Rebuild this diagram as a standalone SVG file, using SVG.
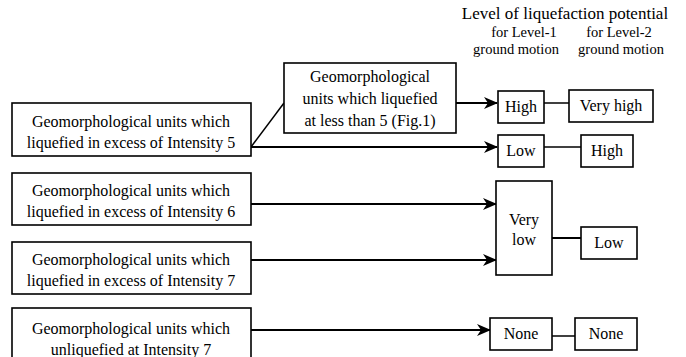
<svg xmlns="http://www.w3.org/2000/svg" width="686" height="357" viewBox="0 0 686 357">
<style>
.box{fill:#fff;stroke:#000;stroke-width:1.6}
.t{font-family:"Liberation Serif","Times New Roman",serif;font-size:16px;fill:#000;text-anchor:middle}
.h{font-family:"Liberation Serif","Times New Roman",serif;font-size:17px;fill:#000;text-anchor:middle}
.s{font-family:"Liberation Serif","Times New Roman",serif;font-size:14.5px;fill:#000;text-anchor:middle}
.c{fill:none;stroke:#000;stroke-width:2}
.l{fill:none;stroke:#000;stroke-width:1.5}
</style>
<defs>
<marker id="arr" markerWidth="14" markerHeight="12" refX="13" refY="6" orient="auto" markerUnits="userSpaceOnUse">
<path d="M0,0 L14,6 L0,12 L4,6 Z" fill="#000"/>
</marker>
</defs>
<rect width="686" height="357" fill="#fff"/>
<g id="header">
<text class="h" x="565" y="19">Level of liquefaction potential</text>
<text class="s" x="524" y="37">for Level-1</text>
<text class="s" x="619" y="37">for Level-2</text>
<text class="s" x="516" y="54">ground motion</text>
<text class="s" x="621" y="54">ground motion</text>
</g>
<g id="connectors">
<line class="l" x1="251" y1="147" x2="284" y2="103"/>
<line class="c" x1="251" y1="147" x2="497" y2="147" marker-end="url(#arr)"/>
<line class="c" x1="456" y1="103" x2="497" y2="103" marker-end="url(#arr)"/>
<line class="l" x1="544" y1="103" x2="569" y2="103"/>
<line class="l" x1="544" y1="147" x2="581" y2="147"/>
<line class="c" x1="251" y1="204" x2="496" y2="204" marker-end="url(#arr)"/>
<line class="c" x1="251" y1="260" x2="496" y2="260" marker-end="url(#arr)"/>
<line class="c" x1="552" y1="238" x2="581" y2="238"/>
<line class="c" x1="251" y1="330" x2="490" y2="330" marker-end="url(#arr)"/>
<line class="l" x1="552" y1="336" x2="575" y2="336"/>
</g>
<g id="nodeA">
<rect class="box" x="12" y="103" width="239" height="53"/>
<text class="t" x="131" y="127">Geomorphological units which</text>
<text class="t" x="131" y="148">liquefied in excess of Intensity 5</text>
</g>
<g id="nodeB">
<rect class="box" x="284" y="63" width="172" height="70"/>
<text class="t" x="370" y="82">Geomorphological</text>
<text class="t" x="370" y="104">units which liquefied</text>
<text class="t" x="370" y="126">at less than 5 (Fig.1)</text>
</g>
<g id="nodeC">
<rect class="box" x="12" y="173" width="239" height="52"/>
<text class="t" x="131" y="196">Geomorphological units which</text>
<text class="t" x="131" y="217">liquefied in excess of Intensity 6</text>
</g>
<g id="nodeD">
<rect class="box" x="12" y="242" width="239" height="52"/>
<text class="t" x="131" y="265">Geomorphological units which</text>
<text class="t" x="131" y="286">liquefied in excess of Intensity 7</text>
</g>
<g id="nodeE">
<rect class="box" x="12" y="308" width="239" height="60"/>
<text class="t" x="131" y="334">Geomorphological units which</text>
<text class="t" x="131" y="355">unliquefied at Intensity 7</text>
</g>
<g id="high1">
<rect class="box" x="498" y="91" width="46" height="32"/>
<text class="t" x="521" y="112">High</text>
</g>
<g id="veryhigh2">
<rect class="box" x="569" y="90" width="84" height="32"/>
<text class="t" x="611" y="111">Very high</text>
</g>
<g id="low1">
<rect class="box" x="498" y="135" width="46" height="32"/>
<text class="t" x="521" y="156">Low</text>
</g>
<g id="high2">
<rect class="box" x="581" y="135" width="52" height="32"/>
<text class="t" x="607" y="156">High</text>
</g>
<g id="verylow1">
<rect class="box" x="496" y="181" width="56" height="94"/>
<text class="t" x="524" y="225">Very</text>
<text class="t" x="524" y="245">low</text>
</g>
<g id="low2">
<rect class="box" x="581" y="227" width="56" height="32"/>
<text class="t" x="609" y="248">Low</text>
</g>
<g id="none1">
<rect class="box" x="490" y="318" width="62" height="32"/>
<text class="t" x="521" y="339">None</text>
</g>
<g id="none2">
<rect class="box" x="575" y="318" width="62" height="32"/>
<text class="t" x="606" y="339">None</text>
</g>
</svg>
